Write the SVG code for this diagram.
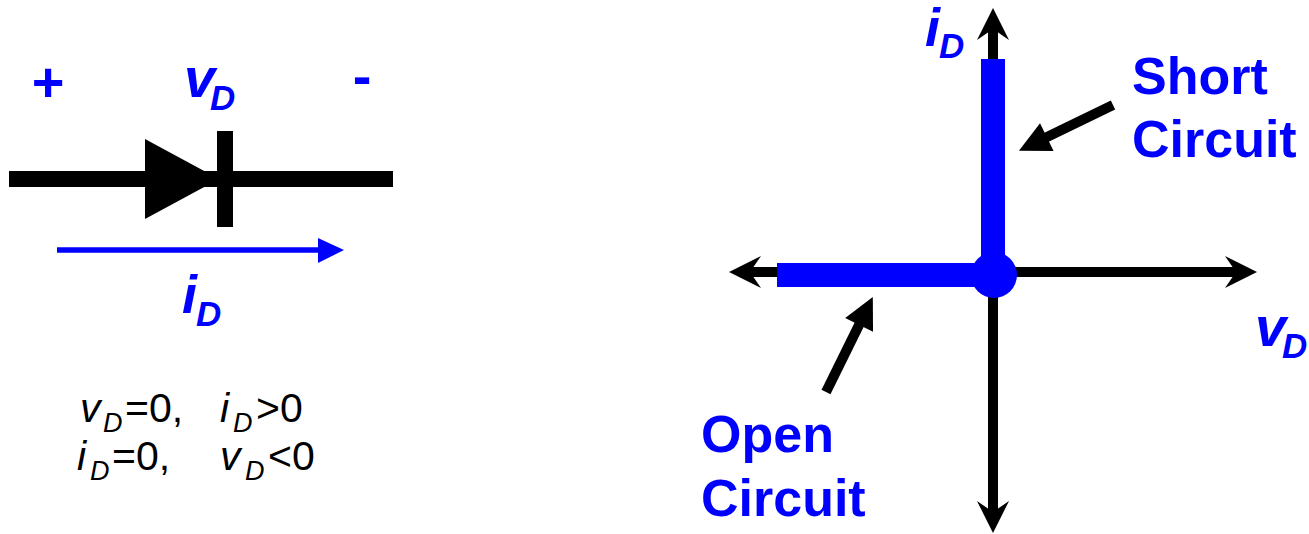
<svg xmlns="http://www.w3.org/2000/svg" width="1309" height="534" viewBox="0 0 1309 534">
<style>
.lbl{font-family:"Liberation Sans",Arial,sans-serif;font-weight:bold;fill:#0000ff}
.it{font-style:italic}
.eq{font-family:"Liberation Sans",Arial,sans-serif;fill:#000;font-size:41px}
.sub{font-size:27px}
.axis{stroke:#000;stroke-width:10;fill:none}
.ptr{stroke:#000;stroke-width:10;fill:none}
</style>
<defs>
<marker id="axhead" viewBox="-15 -20 40 40" markerWidth="40" markerHeight="40" refX="10" refY="0" orient="auto-start-reverse" markerUnits="userSpaceOnUse">
<path d="M21,0 L-11,-16 L0,0 L-11,16 Z" fill="#000"/>
</marker>
<marker id="ptrhead" viewBox="-5 -20 40 40" markerWidth="40" markerHeight="40" refX="2" refY="0" orient="auto" markerUnits="userSpaceOnUse">
<path d="M0,-15.5 L31,0 L0,15.5 Z" fill="#000"/>
</marker>
</defs>
<rect width="1309" height="534" fill="#fff"/>

<g id="diode">
<line x1="9" y1="179" x2="393" y2="179" stroke="#000" stroke-width="16"/>
<polygon points="145,139 219,179 145,219" fill="#000"/>
<rect x="217" y="131" width="16" height="96" fill="#000"/>
</g>
<g id="current-arrow">
<line x1="57" y1="250" x2="320" y2="250" stroke="#0000ff" stroke-width="5.5"/>
<polygon points="318,238 344,250 318,263" fill="#0000ff"/>
</g>
<g id="diode-labels">
<text class="lbl" x="48" y="101" font-size="56" text-anchor="middle">+</text>
<text class="lbl" x="362" y="95" font-size="56" text-anchor="middle">-</text>
<text class="lbl it" font-size="56"><tspan x="184" y="97">v</tspan><tspan x="210" y="110" font-size="35">D</tspan></text>
<text class="lbl it" font-size="54"><tspan x="182" y="313">i</tspan><tspan x="196" y="326" font-size="35">D</tspan></text>
</g>
<g id="equations">
<text class="eq"><tspan x="80" y="422" font-style="italic">v</tspan><tspan x="103" y="432" class="sub" font-style="italic">D</tspan><tspan x="125" y="422">=0,</tspan><tspan x="220" y="422" font-style="italic">i</tspan><tspan x="233" y="432" class="sub" font-style="italic">D</tspan><tspan x="256" y="422">&gt;0</tspan></text>
<text class="eq"><tspan x="77" y="470" font-style="italic">i</tspan><tspan x="90" y="480" class="sub" font-style="italic">D</tspan><tspan x="112" y="470">=0,</tspan><tspan x="220" y="470" font-style="italic">v</tspan><tspan x="245" y="480" class="sub" font-style="italic">D</tspan><tspan x="268" y="470">&lt;0</tspan></text>
</g>

<g id="connectors">
<line class="axis" x1="740" y1="272" x2="1246" y2="272" marker-start="url(#axhead)" marker-end="url(#axhead)"/>
<line class="axis" x1="993" y1="522" x2="993" y2="19" stroke-width="11" marker-start="url(#axhead)" marker-end="url(#axhead)"/>
<line class="ptr" x1="1113" y1="105" x2="1045" y2="138" marker-end="url(#ptrhead)"/>
<line class="ptr" x1="826" y1="392" x2="860" y2="323" marker-end="url(#ptrhead)"/>
</g>

<g id="characteristic">
<rect x="981" y="59" width="24" height="216" fill="#0000ff"/>
<rect x="777" y="263" width="217" height="24" fill="#0000ff"/>
<circle cx="994" cy="275" r="23" fill="#0000ff"/>
</g>

<g id="axis-labels">
<text class="lbl it" font-size="54"><tspan x="925" y="46">i</tspan><tspan x="939" y="58" font-size="35">D</tspan></text>
<text class="lbl it" font-size="56"><tspan x="1255" y="346">v</tspan><tspan x="1282" y="358" font-size="35">D</tspan></text>
</g>
<g id="short-circuit">
<text class="lbl" font-size="52"><tspan x="1132" y="94">Short</tspan><tspan x="1132" y="157">Circuit</tspan></text>
</g>
<g id="open-circuit">
<text class="lbl" font-size="52"><tspan x="701" y="452">Open</tspan><tspan x="701" y="516">Circuit</tspan></text>
</g>
</svg>
